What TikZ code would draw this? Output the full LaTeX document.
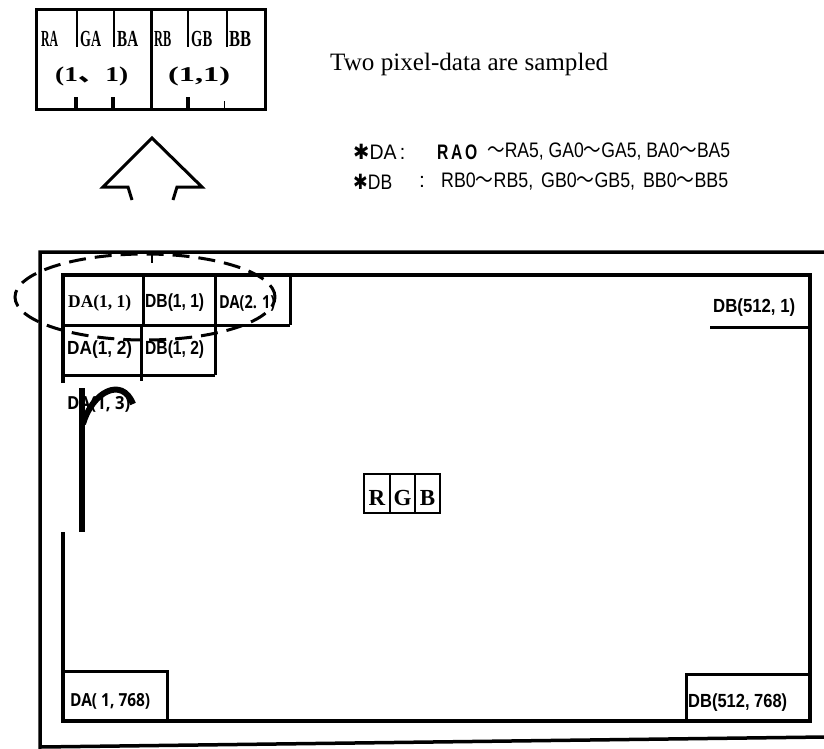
\documentclass[tikz,border=0pt]{standalone}
\usepackage{fontspec}
\usepackage{graphicx}
\setmainfont{Liberation Serif}
\newfontfamily\goth{Liberation Sans}
\newfontfamily\osans{Open Sans}
\newfontfamily\cjk{Noto Sans CJK JP}
\newfontfamily\dejav{DejaVu Sans}
\newcommand{\fitw}[2]{\resizebox{#1pt}{\height}{#2}}
\begin{document}
\begin{tikzpicture}[x=1pt,y=-1pt,
  frame/.style={line width=3.5pt},
  cell/.style={line width=3pt},
  tick/.style={line width=2.5pt},
  lbl/.style={inner sep=0pt, anchor=west},
  serifb/.style={font=\fontsize{23}{23}\selectfont\bfseries},
  gothf/.style={font=\fontsize{19}{19}\selectfont\goth\bfseries},
  gothl/.style={font=\fontsize{21}{21}\selectfont\goth},
  osf/.style={font=\fontsize{18}{18}\selectfont\osans\bfseries}]
\useasboundingbox (0,0) rectangle (824,748);
\fill[white] (0,0) rectangle (824,748);

% ---- top sampled-pixel box
\draw[cell] (36,9) rectangle (265,109);
\draw[cell] (151,9) -- (151,109);
\foreach \x in {77,114,188,227} \draw[tick] (\x,9) -- (\x,47);
\foreach \x in {76,113,188} \draw[line width=3.5pt] (\x,97) -- (\x,109);
\draw[line width=1pt] (224,101) -- (224,109);
\node[lbl, serifb] (ra) at (41,39) {\fitw{17}{RA}};
\node[lbl, serifb] (ga) at (80,39) {\fitw{21}{GA}};
\node[lbl, serifb] (ba) at (117,39) {\fitw{21}{BA}};
\node[lbl, serifb] (rb) at (154,39) {\fitw{17}{RB}};
\node[lbl, serifb] (gb) at (191,39) {\fitw{21}{GB}};
\node[lbl, serifb] (bb) at (229,39) {\fitw{22}{BB}};
\node[lbl, font=\fontsize{21}{21}\selectfont\bfseries] (pa) at (55,76) {\fitw{73}{(1{\cjk 、}1)}};
\node[lbl, font=\fontsize{21}{21}\selectfont\bfseries] (pb) at (168,76) {\fitw{62}{(1,1)}};

% ---- hollow arrow
\draw[line width=3pt, line join=miter] (132,200) -- (128,187) -- (103,187) -- (152,138)
  -- (202,187) -- (177,187) -- (173,200);

% ---- explanatory text
\node[lbl, font=\fontsize{25}{25}\selectfont] (two) at (330,64) {\fitw{278}{Two pixel-data are sampled}};
\node[lbl, gothl] (da) at (353,152) {\fitw{52}{{\dejav ✱}DA\,:}};
\node[lbl, gothl, font=\fontsize{21}{21}\selectfont\goth\bfseries] (rao) at (437,152) {\fitw{40}{R\,A\,O}};
\node[lbl, gothl] (dal) at (487,152) {\fitw{243}{{\cjk 〜}RA5, GA0{\cjk 〜}GA5, BA0{\cjk 〜}BA5}};
\node[lbl, gothl] (db) at (353,182) {\fitw{39}{{\dejav ✱}DB}};
\node[lbl, gothl] (dbc) at (419,182) {:};
\node[lbl, gothl] (dbl) at (441,182) {\fitw{287}{RB0{\cjk 〜}RB5,\, GB0{\cjk 〜}GB5,\, BB0{\cjk 〜}BB5}};

% ---- frames
\draw[frame] (824,252) -- (40,252) -- (40,747) -- (824,737);
\draw[frame] (63,383) -- (63,275) -- (810,275) -- (810,721) -- (63,721) -- (63,532);

% ---- cells
\draw[cell] (63,325) -- (290,325);
\draw[cell] (143,275) -- (143,325);
\draw[cell] (215,275) -- (215,375);
\draw[cell] (290,275) -- (290,325);
\draw[cell] (141,325) -- (141,381);
\draw[cell] (63,375) -- (215,375);
\draw[cell] (710,327) -- (810,327);
\draw[cell] (63,671) -- (167,671) -- (167,721);
\draw[cell] (686,721) -- (686,674) -- (810,674);

\node[lbl, font=\fontsize{18}{18}\selectfont\bfseries] (c11) at (68,303) {\fitw{63}{DA(1, 1)}};
\node[lbl, gothf] (c21) at (145,303) {\fitw{59}{DB(1, 1)}};
\node[lbl, osf] (c31) at (219,303) {\fitw{56}{DA(2. 1)}};
\node[lbl, gothf] (c12) at (67,350) {\fitw{65}{DA(1, 2)}};
\node[lbl, gothf] (c22) at (145,350) {\fitw{59}{DB(1, 2)}};
\node[lbl, osf] (c13) at (67,404) {\fitw{63}{DA(1, 3)}};
\node[lbl, gothf] (cr1) at (713,308) {\fitw{82}{DB(512, 1)}};
\node[lbl, osf] (cl768) at (70,701) {\fitw{80}{DA( 1, 768)}};
\node[lbl, gothf] (cr768) at (688,703) {\fitw{99}{DB(512, 768)}};

% ---- scan direction mark
\draw[line width=6.5pt] (82,388) -- (82,532);
\draw[line width=6pt] (83,424) .. controls (92,392) and (122,376) .. (133,404);

% ---- dashed ellipse
\draw[line width=3pt, dash pattern=on 17pt off 9pt, dash phase=4pt] (145,297) ellipse [x radius=130pt, y radius=43pt];
\draw[line width=2.5pt] (152,255) -- (152,263);

% ---- RGB box
\draw[line width=2.5pt] (364,474) rectangle (440,513);
\draw[line width=1.5pt] (390,474) -- (390,513);
\draw[line width=1.5pt] (415,474) -- (415,513);
\node[font=\fontsize{23}{23}\selectfont\bfseries, inner sep=0pt] (r) at (377,498) {R};
\node[font=\fontsize{23}{23}\selectfont\bfseries, inner sep=0pt] (g) at (402.5,498) {G};
\node[font=\fontsize{23}{23}\selectfont\bfseries, inner sep=0pt] (b) at (427.5,498) {B};
\end{tikzpicture}
\end{document}
